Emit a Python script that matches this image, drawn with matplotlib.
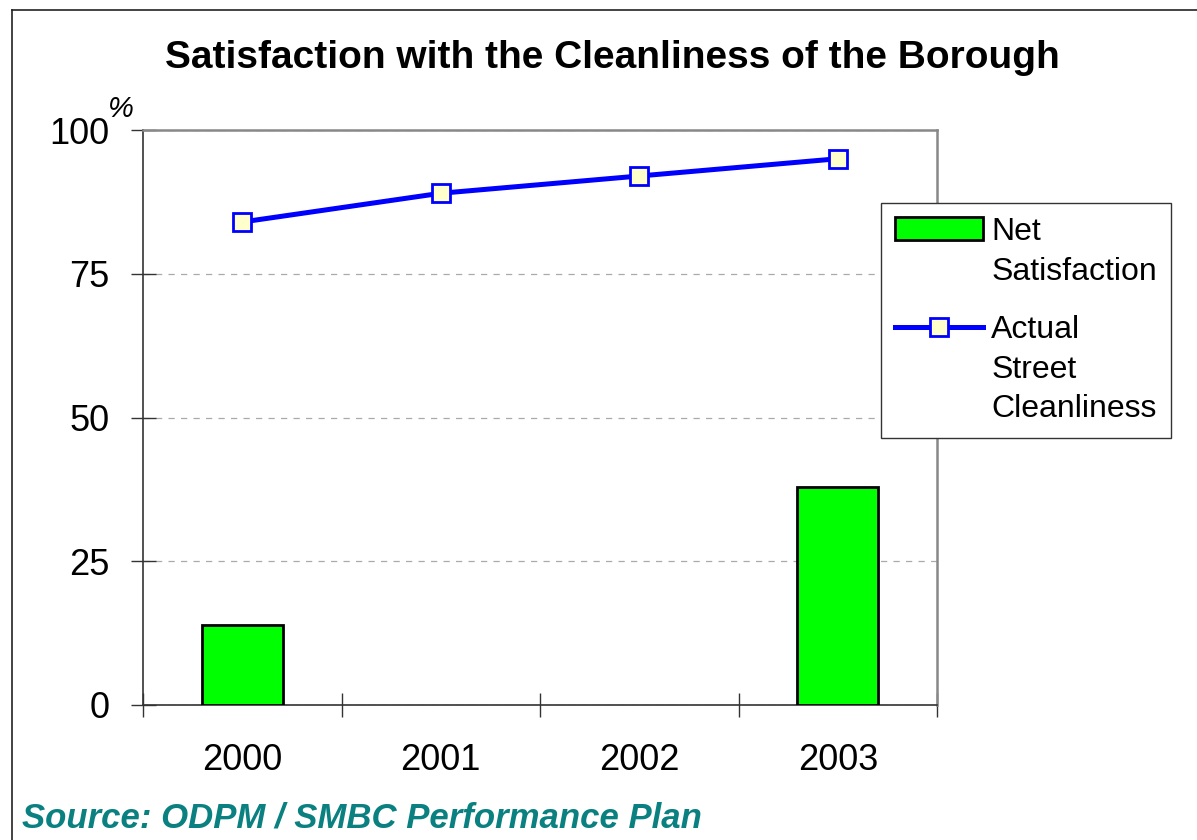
import numpy as np
import matplotlib
matplotlib.use("Agg")
import matplotlib.pyplot as plt
from matplotlib.lines import Line2D

plt.rcParams["font.family"] = ["Liberation Sans", "DejaVu Sans"]

# ----------------------------------------------------------------------
# Data
# ----------------------------------------------------------------------
years = ["2000", "2001", "2002", "2003"]
net_satisfaction = [14, np.nan, np.nan, 38]
street_cleanliness = [84, 89, 92, 95]
y_ticks = [0, 25, 50, 75, 100]

W, H = 1197, 840
fig = plt.figure(figsize=(W / 100, H / 100), dpi=100)
ax = fig.add_axes([143 / W, 1 - 705 / H, (937 - 143) / W, (705 - 130) / H])

x = np.arange(len(years))
bars = ax.bar(x, net_satisfaction, width=0.41, color="#00ff00",
              edgecolor="black", linewidth=2.0, label="Net\nSatisfaction",
              zorder=3)
line, = ax.plot(x, street_cleanliness, color="#0000ff", linewidth=3.6,
                marker="s", markersize=13, markerfacecolor="#ffffcc",
                markeredgecolor="#0000ff", markeredgewidth=2.0,
                label="Actual\nStreet\nCleanliness", zorder=4)

ax.set_xlim(-0.5, len(years) - 0.5)
ax.set_ylim(0, 100)

# category boundaries as major ticks, labels on minor ticks
ax.set_xticks(np.arange(-0.5, len(years)))
ax.set_xticklabels([])
ax.set_xticks(x, minor=True)
ax.set_xticklabels(years, minor=True, fontsize=26)
ax.tick_params(axis="x", which="major", direction="inout", length=17,
               width=1.0, color="#333333")
ax.tick_params(axis="x", which="minor", length=0, pad=27)

ax.set_yticks(y_ticks)
ax.set_yticklabels([str(v) for v in y_ticks], fontsize=26)
ax.tick_params(axis="y", direction="inout", length=18, width=1.0,
               color="#333333", pad=15)

ax.yaxis.grid(True, linestyle=(0, (5, 5)), color="#aaaaaa", linewidth=0.9)
ax.set_axisbelow(True)

for side in ["left", "bottom"]:
    ax.spines[side].set_color("#333333")
    ax.spines[side].set_linewidth(1.2)
for side in ["top", "right"]:
    ax.spines[side].set_color("#888888")
    ax.spines[side].set_linewidth(1.8)

leg = ax.legend(handles=[bars, line], loc="upper left",
                bbox_to_anchor=(881 / W, 1 - 203 / H),
                bbox_transform=fig.transFigure, borderaxespad=0,
                fontsize=23, frameon=True, fancybox=False, framealpha=1,
                edgecolor="#333333", handlelength=2.75, handletextpad=0.25,
                labelspacing=0.9, borderpad=0.45, numpoints=1)
leg.get_frame().set_linewidth(1.0)
for t in leg.get_texts():
    t.set_linespacing(1.4)
# put each handle next to the first line of its label
for col in leg._legend_handle_box.get_children():
    for row in col.get_children():
        row.align = "top"

fig.text(121 / W, 1 - 109 / H, "%", fontsize=21, style="italic",
         ha="center", va="center")

fig.text(612 / W, 1 - 68 / H,
         "Satisfaction with the Cleanliness of the Borough",
         fontsize=28, fontweight="bold", ha="center", va="baseline")

fig.text(22 / W, 1 - 827 / H, "Source: ODPM / SMBC Performance Plan",
         fontsize=25, fontweight="bold", style="italic", color="#0a8080",
         ha="left", va="baseline")

# frame lines (top and left edges of the original chart box)
fig.add_artist(Line2D([12 / W, 1], [1 - 10 / H, 1 - 10 / H],
                      transform=fig.transFigure, color="#222222", lw=1.2))
fig.add_artist(Line2D([12 / W, 12 / W], [0, 1 - 10 / H],
                      transform=fig.transFigure, color="#222222", lw=1.2))

fig.savefig("out.png", dpi=100)
